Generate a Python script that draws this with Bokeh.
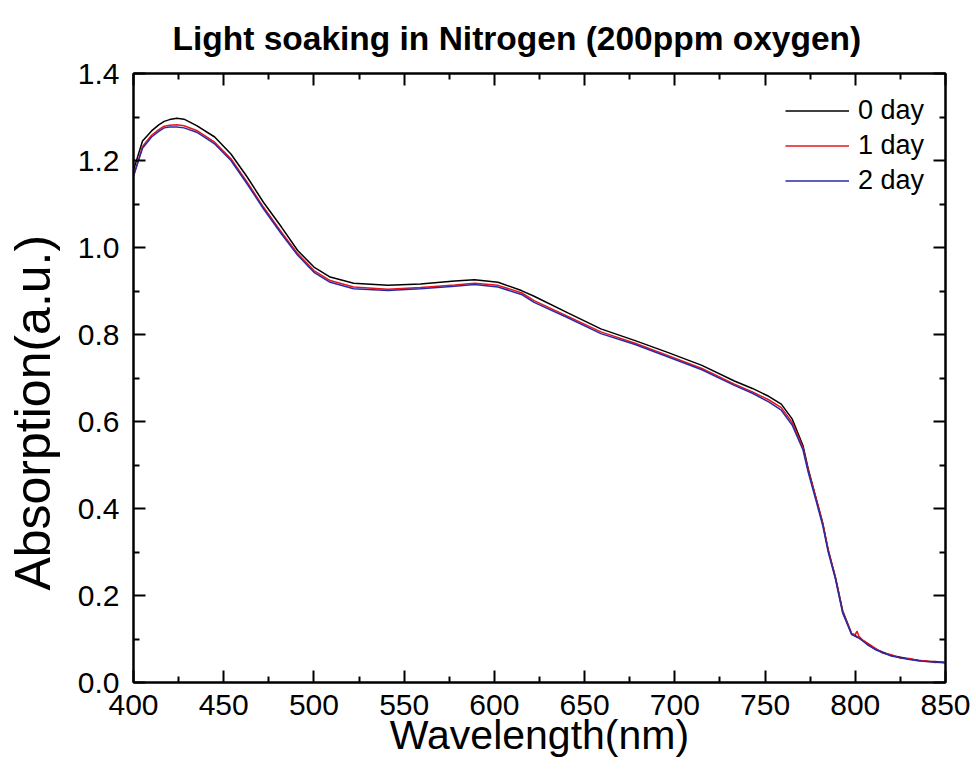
from bokeh.plotting import figure
from bokeh.models import (LinearAxis, FixedTicker, PrintfTickFormatter,
                          Range1d, Legend, LegendItem)
from bokeh.embed import file_html
from bokeh.resources import INLINE

wavelength = [400, 405, 410, 414, 417, 420, 424, 428, 435, 445, 454, 463, 472, 482, 491, 500, 509,
              522, 541, 559, 578, 589, 602, 615, 622, 641, 659, 678, 696, 715, 733,
              743, 752, 759, 765, 771, 774, 778, 782, 785, 789, 793, 798, 800, 801,
              802, 804, 807, 811, 815, 820, 825, 830, 835, 839, 844, 850]

day0 = [1.178, 1.245, 1.268, 1.282, 1.290, 1.294, 1.297, 1.295, 1.280, 1.254, 1.215, 1.162, 1.104, 1.047,
        0.993, 0.955, 0.932, 0.918, 0.913, 0.916, 0.923, 0.926, 0.920, 0.901, 0.888,
        0.849, 0.813, 0.786, 0.759, 0.729, 0.693, 0.676, 0.658, 0.640, 0.606, 0.545,
        0.490, 0.428, 0.366, 0.305, 0.242, 0.165, 0.112, 0.108, 0.105, 0.103, 0.097,
        0.088, 0.077, 0.070, 0.062, 0.058, 0.054, 0.051, 0.049, 0.048, 0.046]

day1 = [1.163, 1.232, 1.258, 1.271, 1.279, 1.281, 1.282, 1.280, 1.269, 1.242, 1.204, 1.150, 1.093, 1.035,
        0.986, 0.947, 0.924, 0.909, 0.904, 0.908, 0.914, 0.918, 0.913, 0.896, 0.878,
        0.841, 0.806, 0.780, 0.752, 0.722, 0.686, 0.668, 0.650, 0.632, 0.598, 0.540,
        0.487, 0.427, 0.365, 0.304, 0.241, 0.163, 0.112, 0.110, 0.118, 0.106, 0.098,
        0.090, 0.079, 0.068, 0.064, 0.056, 0.055, 0.050, 0.050, 0.046, 0.047]

day2 = [1.165, 1.228, 1.254, 1.267, 1.275, 1.277, 1.277, 1.275, 1.265, 1.238, 1.200, 1.146, 1.089, 1.031,
        0.982, 0.943, 0.920, 0.905, 0.901, 0.905, 0.911, 0.915, 0.909, 0.892, 0.874,
        0.838, 0.802, 0.777, 0.749, 0.719, 0.683, 0.665, 0.645, 0.626, 0.592, 0.535,
        0.482, 0.422, 0.360, 0.300, 0.238, 0.160, 0.110, 0.106, 0.104, 0.102, 0.096,
        0.086, 0.076, 0.069, 0.061, 0.057, 0.053, 0.050, 0.048, 0.047, 0.045]

series_names = ["0 day", "1 day", "2 day"]
series_colors = ["#000000", "#e8141c", "#2a2aa8"]

x_ticks = [400, 450, 500, 550, 600, 650, 700, 750, 800, 850]
x_minor = [425, 475, 525, 575, 625, 675, 725, 775, 825]
y_ticks = [0.0, 0.2, 0.4, 0.6, 0.8, 1.0, 1.2, 1.4]
y_minor = [0.1, 0.3, 0.5, 0.7, 0.9, 1.1, 1.3]

FONT = "Liberation Sans"

p = figure(width=976, height=778, output_backend="svg", toolbar_location=None,
           x_range=Range1d(400, 850), y_range=Range1d(0, 1.4),
           x_axis_location=None, y_axis_location=None,
           min_border_left=133, min_border_right=31, min_border_top=73,
           min_border_bottom=96)
p.title.text = "Light soaking in Nitrogen (200ppm oxygen)"
p.title.text_font = FONT
p.title.text_font_size = "33.5px"
p.title.text_font_style = "bold"
p.title.text_color = "black"
p.title.align = "left"
p.title.offset = 39
p.title.standoff = 34
p.xgrid.visible = False
p.ygrid.visible = False
p.outline_line_color = "black"
p.outline_line_width = 2


def style_axis(ax, show_labels):
    ax.axis_line_width = 2
    ax.axis_line_color = "black"
    ax.major_tick_in = 12
    ax.major_tick_out = 0
    ax.minor_tick_in = 6
    ax.minor_tick_out = 0
    ax.major_tick_line_width = 2
    ax.minor_tick_line_width = 2
    ax.major_label_text_font = FONT
    ax.major_label_text_font_size = "30px"
    ax.major_label_text_color = "black"
    ax.axis_label_text_font = FONT
    ax.axis_label_text_font_style = "normal"
    ax.axis_label_text_color = "black"
    if not show_labels:
        ax.major_label_text_alpha = 0
        ax.major_label_text_font_size = "1px"


def xticker():
    return FixedTicker(ticks=x_ticks, minor_ticks=x_minor)


def yticker():
    return FixedTicker(ticks=y_ticks, minor_ticks=y_minor)


xb = LinearAxis(ticker=xticker(), axis_label="Wavelength(nm)")
style_axis(xb, True)
xb.axis_label_text_font_size = "41px"
xb.major_label_standoff = 12
xb.axis_label_standoff = -6
p.add_layout(xb, "below")

xa = LinearAxis(ticker=xticker())
style_axis(xa, False)
p.add_layout(xa, "above")

yl = LinearAxis(ticker=yticker(), axis_label="Absorption(a.u.)" + "\u00a0" * 5,
                formatter=PrintfTickFormatter(format="%.1f"))
style_axis(yl, True)
yl.axis_label_text_font_size = "50px"
yl.major_label_standoff = 14
yl.axis_label_standoff = 14
p.add_layout(yl, "left")

yr = LinearAxis(ticker=yticker())
style_axis(yr, False)
p.add_layout(yr, "right")

renderers = []
for ys, c in zip([day0, day1, day2], series_colors):
    r = p.line(wavelength, ys, line_color=c, line_width=1.5)
    renderers.append(r)

legend = Legend(items=[LegendItem(label=n, renderers=[r])
                       for n, r in zip(series_names, renderers)],
                location=(652, 484))
legend.border_line_alpha = 0
legend.background_fill_alpha = 0
legend.padding = 0
legend.margin = 0
legend.spacing = 0
legend.glyph_width = 64
legend.glyph_height = 35
legend.label_height = 35
legend.label_standoff = 9
legend.label_text_font = FONT
legend.label_text_font_size = "27px"
legend.label_text_color = "black"
p.add_layout(legend, "center")

open("out.html", "w").write(file_html(p, INLINE))
